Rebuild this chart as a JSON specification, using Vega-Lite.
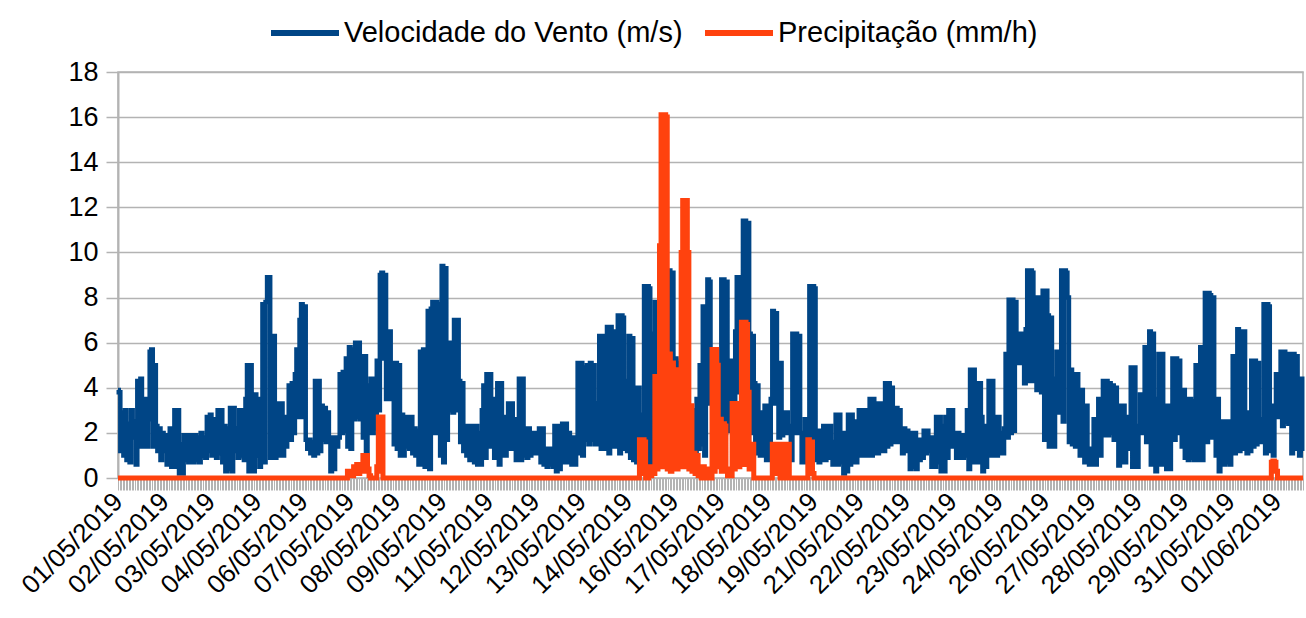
{
"$schema": "https://vega.github.io/schema/vega-lite/v6.json",
"width": 1185, "height": 406,
"autosize": {"type": "none"},
"padding": {"left": 118, "top": 72, "right": 3, "bottom": 140},
"background": "white",
"config": {
  "view": {"stroke": "#b3b3b3", "strokeWidth": 1.5},
  "font": "Liberation Sans",
  "axis": {"labelFont": "Liberation Sans", "labelColor": "#000", "labelFontSize": 26, "domainColor": "#b3b3b3", "tickColor": "#b3b3b3", "gridColor": "#b3b3b3"}
},
"datasets": {
"wind": [
{"h":0,"w":3.9},{"h":1,"w":3.8},{"h":2,"w":1.2},{"h":3,"w":2.9},{"h":4,"w":1.0},{"h":5,"w":3.0},{"h":6,"w":0.8},{"h":7,"w":2.4},{"h":8,"w":0.7},{"h":9,"w":3.0},
{"h":10,"w":1.8},{"h":11,"w":2.5},{"h":12,"w":0.6},{"h":13,"w":4.3},{"h":14,"w":1.4},{"h":15,"w":4.4},{"h":16,"w":2.2},{"h":17,"w":1.4},{"h":18,"w":3.5},{"h":19,"w":1.4},
{"h":20,"w":2.6},{"h":21,"w":5.6},{"h":22,"w":5.7},{"h":23,"w":1.4},{"h":24,"w":5.0},{"h":25,"w":2.3},{"h":26,"w":1.2},{"h":27,"w":2.2},{"h":28,"w":0.8},{"h":29,"w":2.0},
{"h":30,"w":1.2},{"h":31,"w":1.9},{"h":32,"w":0.6},{"h":33,"w":1.6},{"h":34,"w":2.2},{"h":35,"w":0.5},{"h":36,"w":1.8},{"h":37,"w":3.0},{"h":38,"w":0.5},{"h":39,"w":3.0},
{"h":40,"w":0.2},{"h":41,"w":1.5},{"h":42,"w":0.2},{"h":43,"w":1.9},{"h":44,"w":0.8},{"h":45,"w":1.9},{"h":46,"w":0.7},{"h":47,"w":1.9},{"h":48,"w":1.2},{"h":49,"w":0.7},
{"h":50,"w":1.9},{"h":51,"w":0.8},{"h":52,"w":1.8},{"h":53,"w":0.7},{"h":54,"w":2.0},{"h":55,"w":1.0},{"h":56,"w":1.8},{"h":57,"w":0.9},{"h":58,"w":2.7},{"h":59,"w":1.2},
{"h":60,"w":2.8},{"h":61,"w":1.0},{"h":62,"w":2.6},{"h":63,"w":1.5},{"h":64,"w":0.9},{"h":65,"w":3.0},{"h":66,"w":1.1},{"h":67,"w":3.0},{"h":68,"w":0.7},{"h":69,"w":2.3},
{"h":70,"w":0.3},{"h":71,"w":2.2},{"h":72,"w":0.4},{"h":73,"w":3.1},{"h":74,"w":0.3},{"h":75,"w":3.1},{"h":76,"w":1.2},{"h":77,"w":2.2},{"h":78,"w":0.9},{"h":79,"w":3.0},
{"h":80,"w":1.0},{"h":81,"w":3.0},{"h":82,"w":0.8},{"h":83,"w":3.5},{"h":84,"w":5.0},{"h":85,"w":0.3},{"h":86,"w":5.0},{"h":87,"w":3.7},{"h":88,"w":0.3},{"h":89,"w":3.7},
{"h":90,"w":1.0},{"h":91,"w":3.5},{"h":92,"w":0.5},{"h":93,"w":2.6},{"h":94,"w":7.7},{"h":95,"w":0.7},{"h":96,"w":7.8},{"h":97,"w":8.9},{"h":98,"w":8.9},{"h":99,"w":0.9},
{"h":100,"w":6.3},{"h":101,"w":6.3},{"h":102,"w":0.9},{"h":103,"w":1.0},{"h":104,"w":3.3},{"h":105,"w":1.0},{"h":106,"w":3.3},{"h":107,"w":1.0},{"h":108,"w":2.7},{"h":109,"w":1.4},
{"h":110,"w":2.6},{"h":111,"w":4.1},{"h":112,"w":1.7},{"h":113,"w":4.2},{"h":114,"w":2.0},{"h":115,"w":4.6},{"h":116,"w":5.7},{"h":117,"w":2.7},{"h":118,"w":7.0},{"h":119,"w":7.7},
{"h":120,"w":2.7},{"h":121,"w":7.6},{"h":122,"w":1.7},{"h":123,"w":1.3},{"h":124,"w":1.7},{"h":125,"w":1.1},{"h":126,"w":1.6},{"h":127,"w":1.0},{"h":128,"w":4.3},{"h":129,"w":1.1},
{"h":130,"w":4.3},{"h":131,"w":1.2},{"h":132,"w":3.2},{"h":133,"w":1.7},{"h":134,"w":3.1},{"h":135,"w":1.6},{"h":136,"w":2.9},{"h":137,"w":1.7},{"h":138,"w":0.3},{"h":139,"w":1.8},
{"h":140,"w":0.4},{"h":141,"w":1.8},{"h":142,"w":1.4},{"h":143,"w":1.8},{"h":144,"w":4.6},{"h":145,"w":2.0},{"h":146,"w":4.7},{"h":147,"w":2.1},{"h":148,"w":5.3},{"h":149,"w":1.4},
{"h":150,"w":5.8},{"h":151,"w":1.3},{"h":152,"w":5.7},{"h":153,"w":2.6},{"h":154,"w":6.0},{"h":155,"w":2.7},{"h":156,"w":6.0},{"h":157,"w":2.6},{"h":158,"w":5.4},{"h":159,"w":1.8},
{"h":160,"w":5.4},{"h":161,"w":1.2},{"h":162,"w":4.1},{"h":163,"w":2.0},{"h":164,"w":4.4},{"h":165,"w":2.0},{"h":166,"w":4.4},{"h":167,"w":2.2},{"h":168,"w":5.2},{"h":169,"w":3.0},
{"h":170,"w":9.0},{"h":171,"w":9.1},{"h":172,"w":5.3},{"h":173,"w":9.0},{"h":174,"w":3.5},{"h":175,"w":6.5},{"h":176,"w":6.5},{"h":177,"w":3.5},{"h":178,"w":5.1},{"h":179,"w":1.5},
{"h":180,"w":5.1},{"h":181,"w":1.3},{"h":182,"w":5.0},{"h":183,"w":1.0},{"h":184,"w":2.8},{"h":185,"w":1.0},{"h":186,"w":2.7},{"h":187,"w":1.4},{"h":188,"w":2.7},{"h":189,"w":1.3},
{"h":190,"w":2.7},{"h":191,"w":1.1},{"h":192,"w":2.2},{"h":193,"w":1.0},{"h":194,"w":2.1},{"h":195,"w":0.6},{"h":196,"w":5.6},{"h":197,"w":0.6},{"h":198,"w":5.7},{"h":199,"w":0.5},
{"h":200,"w":5.6},{"h":201,"w":7.4},{"h":202,"w":0.4},{"h":203,"w":7.5},{"h":204,"w":7.8},{"h":205,"w":2.0},{"h":206,"w":7.8},{"h":207,"w":2.0},{"h":208,"w":7.7},{"h":209,"w":1.0},
{"h":210,"w":9.4},{"h":211,"w":0.7},{"h":212,"w":9.3},{"h":213,"w":1.7},{"h":214,"w":6.0},{"h":215,"w":3.0},{"h":216,"w":6.0},{"h":217,"w":2.9},{"h":218,"w":7.0},{"h":219,"w":3.0},
{"h":220,"w":7.0},{"h":221,"w":4.3},{"h":222,"w":1.6},{"h":223,"w":4.2},{"h":224,"w":1.2},{"h":225,"w":2.3},{"h":226,"w":1.0},{"h":227,"w":2.3},{"h":228,"w":0.8},{"h":229,"w":2.3},
{"h":230,"w":2.3},{"h":231,"w":0.7},{"h":232,"w":2.3},{"h":233,"w":0.6},{"h":234,"w":2.0},{"h":235,"w":0.6},{"h":236,"w":3.0},{"h":237,"w":4.1},{"h":238,"w":0.9},{"h":239,"w":4.6},
{"h":240,"w":1.4},{"h":241,"w":4.6},{"h":242,"w":1.4},{"h":243,"w":3.5},{"h":244,"w":0.9},{"h":245,"w":3.5},{"h":246,"w":4.2},{"h":247,"w":0.6},{"h":248,"w":4.2},{"h":249,"w":1.0},
{"h":250,"w":2.7},{"h":251,"w":1.0},{"h":252,"w":2.7},{"h":253,"w":3.3},{"h":254,"w":1.3},{"h":255,"w":3.3},{"h":256,"w":1.3},{"h":257,"w":2.6},{"h":258,"w":0.8},{"h":259,"w":2.5},
{"h":260,"w":4.4},{"h":261,"w":0.8},{"h":262,"w":4.4},{"h":263,"w":1.0},{"h":264,"w":2.2},{"h":265,"w":0.9},{"h":266,"w":2.2},{"h":267,"w":1.0},{"h":268,"w":2.0},{"h":269,"w":1.1},
{"h":270,"w":2.0},{"h":271,"w":1.1},{"h":272,"w":1.9},{"h":273,"w":2.2},{"h":274,"w":0.7},{"h":275,"w":2.2},{"h":276,"w":0.6},{"h":277,"w":1.3},{"h":278,"w":0.5},{"h":279,"w":1.3},
{"h":280,"w":0.6},{"h":281,"w":1.3},{"h":282,"w":0.5},{"h":283,"w":2.3},{"h":284,"w":0.3},{"h":285,"w":2.3},{"h":286,"w":0.4},{"h":287,"w":2.0},{"h":288,"w":2.4},{"h":289,"w":0.7},
{"h":290,"w":2.4},{"h":291,"w":0.7},{"h":292,"w":2.0},{"h":293,"w":1.8},{"h":294,"w":0.6},{"h":295,"w":1.8},{"h":296,"w":0.6},{"h":297,"w":1.6},{"h":298,"w":5.1},{"h":299,"w":1.1},
{"h":300,"w":5.1},{"h":301,"w":1.0},{"h":302,"w":4.9},{"h":303,"w":1.7},{"h":304,"w":5.0},{"h":305,"w":1.5},{"h":306,"w":5.1},{"h":307,"w":1.7},{"h":308,"w":5.0},{"h":309,"w":1.5},
{"h":310,"w":3.3},{"h":311,"w":1.5},{"h":312,"w":6.3},{"h":313,"w":1.3},{"h":314,"w":6.3},{"h":315,"w":1.3},{"h":316,"w":6.2},{"h":317,"w":6.7},{"h":318,"w":1.1},{"h":319,"w":6.7},
{"h":320,"w":1.4},{"h":321,"w":6.5},{"h":322,"w":6.4},{"h":323,"w":1.4},{"h":324,"w":7.2},{"h":325,"w":1.1},{"h":326,"w":7.2},{"h":327,"w":7.1},{"h":328,"w":1.3},{"h":329,"w":4.3},
{"h":330,"w":1.2},{"h":331,"w":6.3},{"h":332,"w":0.9},{"h":333,"w":6.2},{"h":334,"w":0.8},{"h":335,"w":4.0},{"h":336,"w":0.7},{"h":337,"w":4.0},{"h":338,"w":0.2},{"h":339,"w":2.8},
{"h":340,"w":0.2},{"h":341,"w":8.5},{"h":342,"w":0.3},{"h":343,"w":8.5},{"h":344,"w":8.4},{"h":345,"w":0.5},{"h":346,"w":6.4},{"h":347,"w":0.5},{"h":348,"w":7.8},{"h":349,"w":1.9},
{"h":350,"w":7.8},{"h":351,"w":10.2},{"h":352,"w":10.2},{"h":353,"w":2.2},{"h":354,"w":5.0},{"h":355,"w":3.0},{"h":356,"w":6.0},{"h":357,"w":9.2},{"h":358,"w":5.0},{"h":359,"w":9.1},
{"h":360,"w":4.6},{"h":361,"w":5.3},{"h":362,"w":1.2},{"h":363,"w":5.1},{"h":364,"w":1.5},{"h":365,"w":5.2},{"h":366,"w":1.0},{"h":367,"w":4.0},{"h":368,"w":0.6},{"h":369,"w":3.0},
{"h":370,"w":0.5},{"h":371,"w":2.5},{"h":372,"w":1.0},{"h":373,"w":3.0},{"h":374,"w":1.2},{"h":375,"w":3.5},{"h":376,"w":1.3},{"h":377,"w":5.0},{"h":378,"w":1.5},{"h":379,"w":7.6},
{"h":380,"w":1.0},{"h":381,"w":3.3},{"h":382,"w":8.8},{"h":383,"w":8.7},{"h":384,"w":3.3},{"h":385,"w":5.0},{"h":386,"w":1.0},{"h":387,"w":3.9},{"h":388,"w":0.8},{"h":389,"w":3.5},
{"h":390,"w":1.0},{"h":391,"w":8.8},{"h":392,"w":8.8},{"h":393,"w":2.0},{"h":394,"w":8.7},{"h":395,"w":2.1},{"h":396,"w":5.2},{"h":397,"w":2.1},{"h":398,"w":5.2},{"h":399,"w":2.2},
{"h":400,"w":6.5},{"h":401,"w":8.9},{"h":402,"w":3.8},{"h":403,"w":8.9},{"h":404,"w":3.9},{"h":405,"w":11.4},{"h":406,"w":11.4},{"h":407,"w":3.8},{"h":408,"w":11.3},{"h":409,"w":6.4},
{"h":410,"w":2.0},{"h":411,"w":6.3},{"h":412,"w":4.2},{"h":413,"w":1.1},{"h":414,"w":4.1},{"h":415,"w":2.9},{"h":416,"w":1.0},{"h":417,"w":2.9},{"h":418,"w":1.0},{"h":419,"w":3.2},
{"h":420,"w":0.8},{"h":421,"w":3.2},{"h":422,"w":0.8},{"h":423,"w":3.5},{"h":424,"w":7.4},{"h":425,"w":3.3},{"h":426,"w":7.3},{"h":427,"w":5.1},{"h":428,"w":1.8},{"h":429,"w":5.1},
{"h":430,"w":1.9},{"h":431,"w":2.9},{"h":432,"w":2.0},{"h":433,"w":2.9},{"h":434,"w":2.0},{"h":435,"w":2.3},{"h":436,"w":0.8},{"h":437,"w":6.4},{"h":438,"w":2.0},{"h":439,"w":6.4},
{"h":440,"w":2.0},{"h":441,"w":6.3},{"h":442,"w":2.0},{"h":443,"w":0.7},{"h":444,"w":2.0},{"h":445,"w":2.6},{"h":446,"w":0.7},{"h":447,"w":2.6},{"h":448,"w":8.5},{"h":449,"w":0.8},
{"h":450,"w":8.5},{"h":451,"w":8.4},{"h":452,"w":0.8},{"h":453,"w":2.1},{"h":454,"w":0.7},{"h":455,"w":2.1},{"h":456,"w":0.8},{"h":457,"w":2.3},{"h":458,"w":0.8},{"h":459,"w":2.3},
{"h":460,"w":0.9},{"h":461,"w":2.3},{"h":462,"w":1.6},{"h":463,"w":0.6},{"h":464,"w":1.6},{"h":465,"w":2.8},{"h":466,"w":0.6},{"h":467,"w":2.8},{"h":468,"w":0.7},{"h":469,"w":2.0},
{"h":470,"w":0.2},{"h":471,"w":2.0},{"h":472,"w":0.3},{"h":473,"w":2.8},{"h":474,"w":0.6},{"h":475,"w":2.8},{"h":476,"w":0.7},{"h":477,"w":2.5},{"h":478,"w":0.7},{"h":479,"w":2.5},
{"h":480,"w":3.0},{"h":481,"w":1.0},{"h":482,"w":3.0},{"h":483,"w":1.0},{"h":484,"w":3.0},{"h":485,"w":1.0},{"h":486,"w":2.9},{"h":487,"w":3.5},{"h":488,"w":1.0},{"h":489,"w":3.5},
{"h":490,"w":1.1},{"h":491,"w":3.3},{"h":492,"w":1.1},{"h":493,"w":3.3},{"h":494,"w":1.2},{"h":495,"w":3.3},{"h":496,"w":1.2},{"h":497,"w":4.2},{"h":498,"w":1.4},{"h":499,"w":4.2},
{"h":500,"w":1.5},{"h":501,"w":4.0},{"h":502,"w":3.1},{"h":503,"w":1.6},{"h":504,"w":3.1},{"h":505,"w":1.6},{"h":506,"w":3.0},{"h":507,"w":2.2},{"h":508,"w":1.1},{"h":509,"w":2.2},
{"h":510,"w":1.2},{"h":511,"w":2.1},{"h":512,"w":2.0},{"h":513,"w":0.4},{"h":514,"w":2.0},{"h":515,"w":0.5},{"h":516,"w":2.0},{"h":517,"w":0.4},{"h":518,"w":1.7},{"h":519,"w":0.8},
{"h":520,"w":1.7},{"h":521,"w":0.9},{"h":522,"w":2.1},{"h":523,"w":1.1},{"h":524,"w":2.1},{"h":525,"w":1.2},{"h":526,"w":1.8},{"h":527,"w":0.5},{"h":528,"w":1.8},{"h":529,"w":0.5},
{"h":530,"w":2.7},{"h":531,"w":0.7},{"h":532,"w":2.7},{"h":533,"w":0.3},{"h":534,"w":2.3},{"h":535,"w":0.3},{"h":536,"w":2.7},{"h":537,"w":0.9},{"h":538,"w":3.0},{"h":539,"w":1.4},
{"h":540,"w":3.0},{"h":541,"w":1.4},{"h":542,"w":2.0},{"h":543,"w":0.9},{"h":544,"w":2.0},{"h":545,"w":0.9},{"h":546,"w":1.9},{"h":547,"w":0.9},{"h":548,"w":1.9},{"h":549,"w":1.0},
{"h":550,"w":3.0},{"h":551,"w":0.4},{"h":552,"w":4.8},{"h":553,"w":0.7},{"h":554,"w":4.8},{"h":555,"w":0.7},{"h":556,"w":4.2},{"h":557,"w":0.7},{"h":558,"w":4.2},{"h":559,"w":2.7},
{"h":560,"w":0.3},{"h":561,"w":2.3},{"h":562,"w":0.5},{"h":563,"w":2.3},{"h":564,"w":4.3},{"h":565,"w":1.0},{"h":566,"w":4.3},{"h":567,"w":1.0},{"h":568,"w":2.7},{"h":569,"w":1.0},
{"h":570,"w":2.7},{"h":571,"w":1.1},{"h":572,"w":2.0},{"h":573,"w":1.1},{"h":574,"w":2.2},{"h":575,"w":5.5},{"h":576,"w":1.8},{"h":577,"w":7.9},{"h":578,"w":2.0},{"h":579,"w":7.9},
{"h":580,"w":2.1},{"h":581,"w":7.8},{"h":582,"w":6.4},{"h":583,"w":5.1},{"h":584,"w":6.4},{"h":585,"w":5.1},{"h":586,"w":6.4},{"h":587,"w":4.2},{"h":588,"w":6.6},{"h":589,"w":9.2},
{"h":590,"w":4.3},{"h":591,"w":9.2},{"h":592,"w":9.1},{"h":593,"w":4.3},{"h":594,"w":8.0},{"h":595,"w":3.9},{"h":596,"w":8.0},{"h":597,"w":7.3},{"h":598,"w":3.8},{"h":599,"w":8.3},
{"h":600,"w":1.7},{"h":601,"w":8.3},{"h":602,"w":7.2},{"h":603,"w":1.4},{"h":604,"w":7.1},{"h":605,"w":4.4},{"h":606,"w":1.4},{"h":607,"w":4.4},{"h":608,"w":5.6},{"h":609,"w":2.9},
{"h":610,"w":5.6},{"h":611,"w":9.2},{"h":612,"w":2.5},{"h":613,"w":9.2},{"h":614,"w":9.1},{"h":615,"w":8.0},{"h":616,"w":1.6},{"h":617,"w":4.8},{"h":618,"w":1.5},{"h":619,"w":4.6},
{"h":620,"w":1.4},{"h":621,"w":4.6},{"h":622,"w":3.9},{"h":623,"w":1.0},{"h":624,"w":3.9},{"h":625,"w":3.2},{"h":626,"w":0.7},{"h":627,"w":3.2},{"h":628,"w":1.3},{"h":629,"w":0.6},
{"h":630,"w":1.3},{"h":631,"w":0.6},{"h":632,"w":2.6},{"h":633,"w":0.6},{"h":634,"w":2.6},{"h":635,"w":3.5},{"h":636,"w":1.0},{"h":637,"w":3.5},{"h":638,"w":4.3},{"h":639,"w":1.9},
{"h":640,"w":4.3},{"h":641,"w":1.9},{"h":642,"w":4.2},{"h":643,"w":2.0},{"h":644,"w":4.1},{"h":645,"w":1.7},{"h":646,"w":4.0},{"h":647,"w":3.2},{"h":648,"w":0.55},{"h":649,"w":3.2},
{"h":650,"w":0.7},{"h":651,"w":3.2},{"h":652,"w":0.7},{"h":653,"w":2.7},{"h":654,"w":1.3},{"h":655,"w":2.7},{"h":656,"w":4.9},{"h":657,"w":0.5},{"h":658,"w":4.9},{"h":659,"w":2.3},
{"h":660,"w":0.5},{"h":661,"w":2.3},{"h":662,"w":3.7},{"h":663,"w":2.0},{"h":664,"w":3.7},{"h":665,"w":5.8},{"h":666,"w":1.6},{"h":667,"w":5.8},{"h":668,"w":6.5},{"h":669,"w":0.6},
{"h":670,"w":6.4},{"h":671,"w":3.5},{"h":672,"w":0.3},{"h":673,"w":3.5},{"h":674,"w":5.5},{"h":675,"w":0.6},{"h":676,"w":5.5},{"h":677,"w":0.6},{"h":678,"w":3.2},{"h":679,"w":0.4},
{"h":680,"w":3.2},{"h":681,"w":0.4},{"h":682,"w":3.1},{"h":683,"w":5.3},{"h":684,"w":1.7},{"h":685,"w":5.3},{"h":686,"w":2.0},{"h":687,"w":5.2},{"h":688,"w":3.6},{"h":689,"w":1.4},
{"h":690,"w":3.9},{"h":691,"w":0.9},{"h":692,"w":3.5},{"h":693,"w":0.8},{"h":694,"w":3.5},{"h":695,"w":0.9},{"h":696,"w":3.4},{"h":697,"w":0.8},{"h":698,"w":5.0},{"h":699,"w":0.8},
{"h":700,"w":4.9},{"h":701,"w":5.8},{"h":702,"w":0.8},{"h":703,"w":5.8},{"h":704,"w":8.2},{"h":705,"w":1.6},{"h":706,"w":8.2},{"h":707,"w":8.1},{"h":708,"w":1.8},{"h":709,"w":8.0},
{"h":710,"w":3.5},{"h":711,"w":1.0},{"h":712,"w":3.5},{"h":713,"w":0.3},{"h":714,"w":2.3},{"h":715,"w":2.5},{"h":716,"w":0.6},{"h":717,"w":2.5},{"h":718,"w":0.7},{"h":719,"w":2.5},
{"h":720,"w":0.6},{"h":721,"w":2.4},{"h":722,"w":5.4},{"h":723,"w":1.1},{"h":724,"w":5.4},{"h":725,"w":6.6},{"h":726,"w":1.2},{"h":727,"w":6.5},{"h":728,"w":1.3},{"h":729,"w":6.5},
{"h":730,"w":2.9},{"h":731,"w":1.1},{"h":732,"w":2.9},{"h":733,"w":1.2},{"h":734,"w":5.2},{"h":735,"w":1.4},{"h":736,"w":5.2},{"h":737,"w":1.5},{"h":738,"w":5.1},{"h":739,"w":2.6},
{"h":740,"w":1.6},{"h":741,"w":2.6},{"h":742,"w":7.7},{"h":743,"w":1.1},{"h":744,"w":7.7},{"h":745,"w":7.6},{"h":746,"w":1.2},{"h":747,"w":3.2},{"h":748,"w":1.0},{"h":749,"w":3.2},
{"h":750,"w":4.6},{"h":751,"w":2.7},{"h":752,"w":4.6},{"h":753,"w":5.6},{"h":754,"w":2.3},{"h":755,"w":5.6},{"h":756,"w":2.5},{"h":757,"w":5.5},{"h":758,"w":2.4},{"h":759,"w":5.5},
{"h":760,"w":1.1},{"h":761,"w":5.5},{"h":762,"w":1.3},{"h":763,"w":5.4},{"h":764,"w":4.4},{"h":765,"w":1.0},{"h":766,"w":4.4},{"h":767,"w":1.2}
],
"rain": [
{"h":0,"p":0},{"h":148,"p":0},{"h":149,"p":0.3},{"h":150,"p":0.1},{"h":151,"p":0.3},{"h":152,"p":0.1},{"h":153,"p":0.5},{"h":154,"p":0.2},{"h":155,"p":0.6},{"h":156,"p":0.2},
{"h":157,"p":0.6},{"h":158,"p":0.3},{"h":159,"p":1.0},{"h":160,"p":0.3},{"h":161,"p":1.0},{"h":162,"p":0.4},{"h":163,"p":0.1},{"h":164,"p":0},{"h":167,"p":0},{"h":168,"p":0.5},
{"h":169,"p":2.7},{"h":170,"p":0.3},{"h":171,"p":2.7},{"h":172,"p":0},{"h":337,"p":0},{"h":338,"p":1.7},{"h":339,"p":0.2},{"h":340,"p":1.7},{"h":341,"p":1.6},{"h":342,"p":0},
{"h":343,"p":0},{"h":344,"p":0.5},{"h":345,"p":0.1},{"h":346,"p":0.5},{"h":347,"p":0.2},{"h":348,"p":4.5},{"h":349,"p":0.4},{"h":350,"p":4.4},{"h":351,"p":10.3},{"h":352,"p":16.1},
{"h":353,"p":0.5},{"h":354,"p":16.1},{"h":355,"p":16.0},{"h":356,"p":0.4},{"h":357,"p":5.5},{"h":358,"p":0.3},{"h":359,"p":5.1},{"h":360,"p":0.6},{"h":361,"p":4.8},{"h":362,"p":0.4},
{"h":363,"p":4.6},{"h":364,"p":0.5},{"h":365,"p":10.0},{"h":366,"p":12.3},{"h":367,"p":0.5},{"h":368,"p":12.3},{"h":369,"p":10.0},{"h":370,"p":0.4},{"h":371,"p":3.2},{"h":372,"p":0.3},
{"h":373,"p":1.1},{"h":374,"p":0.2},{"h":375,"p":1.0},{"h":376,"p":0.1},{"h":377,"p":0.4},{"h":378,"p":0},{"h":379,"p":0.5},{"h":380,"p":0},{"h":381,"p":0},{"h":382,"p":0.3},
{"h":383,"p":0.4},{"h":384,"p":0},{"h":385,"p":5.7},{"h":386,"p":0.3},{"h":387,"p":5.7},{"h":388,"p":5.0},{"h":389,"p":0.5},{"h":390,"p":2.6},{"h":391,"p":0.3},{"h":392,"p":2.4},
{"h":393,"p":2.3},{"h":394,"p":0.4},{"h":395,"p":0.1},{"h":396,"p":0.3},{"h":397,"p":0.1},{"h":398,"p":3.3},{"h":399,"p":0.4},{"h":400,"p":3.3},{"h":401,"p":3.2},{"h":402,"p":0.5},
{"h":403,"p":2.0},{"h":404,"p":6.9},{"h":405,"p":0.6},{"h":406,"p":6.9},{"h":407,"p":6.8},{"h":408,"p":3.8},{"h":409,"p":0.4},{"h":410,"p":1.5},{"h":411,"p":1.5},{"h":412,"p":0},
{"h":423,"p":0},{"h":424,"p":1.5},{"h":425,"p":0.3},{"h":426,"p":1.5},{"h":427,"p":0.2},{"h":428,"p":1.5},{"h":429,"p":0},{"h":431,"p":0},{"h":432,"p":1.5},{"h":433,"p":0.3},
{"h":434,"p":1.5},{"h":435,"p":0},{"h":446,"p":0},{"h":447,"p":1.7},{"h":448,"p":0.2},{"h":449,"p":1.6},{"h":450,"p":0.2},{"h":451,"p":0},{"h":746,"p":0},{"h":747,"p":0.7},
{"h":748,"p":0.75},{"h":749,"p":0.7},{"h":750,"p":0.3},{"h":751,"p":0},{"h":767,"p":0}
]
},
"layer": [
  {
    "data": {"name": "wind"},
    "mark": {"type": "line", "strokeWidth": 4.5, "strokeJoin": "miter", "interpolate": "step"},
    "encoding": {
      "x": {"field": "h", "type": "quantitative", "title": null,
        "scale": {"domain": [0, 767], "nice": false, "zero": false},
        "axis": {"tickCount": 767, "labelExpr": "datum.value % 30 === 0 ? timeFormat(datetime(2019, 4, 1 + floor(datum.value / 24)), '%d/%m/%Y') : ''",
          "labelAngle": -45, "labelAlign": "right", "labelBaseline": "middle", "labelOverlap": false, "labelFlush": false, "labelBound": false,
          "tickSize": 12, "tickWidth": 1, "grid": false, "domain": false, "labelPadding": 7}},
      "y": {"field": "w", "type": "quantitative", "title": null,
        "scale": {"domain": [0, 18], "nice": false},
        "axis": {"values": [0,2,4,6,8,10,12,14,16,18], "tickSize": 12, "tickWidth": 1.5, "gridWidth": 1.5, "domainWidth": 2, "labelPadding": 8, "labelFontSize": 27}},
      "color": {"datum": "Velocidade do Vento (m/s)", "type": "nominal",
        "scale": {"domain": ["Velocidade do Vento (m/s)", "Precipitação (mm/h)"], "range": ["#004586", "#ff420e"]},
        "legend": {"orient": "none", "legendX": 150, "legendY": -76, "direction": "horizontal", "title": null,
          "symbolType": "stroke", "symbolSize": 4624, "symbolStrokeWidth": 6, "labelLimit": 0,
          "labelFontSize": 29, "labelFont": "Liberation Sans", "labelColor": "#000", "labelOffset": 2, "columnPadding": 10}}
    }
  },
  {
    "data": {"name": "rain"},
    "mark": {"type": "line", "strokeWidth": 5, "strokeJoin": "miter", "interpolate": "step"},
    "encoding": {
      "x": {"field": "h", "type": "quantitative", "title": null},
      "y": {"field": "p", "type": "quantitative", "title": null},
      "color": {"datum": "Precipitação (mm/h)", "type": "nominal"}
    }
  }
]
}
